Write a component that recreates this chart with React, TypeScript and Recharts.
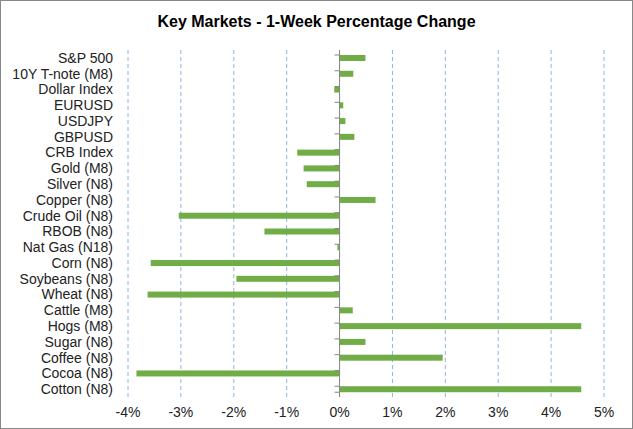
import React from 'react'
import {BarChart, Bar, XAxis, YAxis, CartesianGrid, ReferenceLine} from 'recharts'

const markets = [
  'S&P 500',
  '10Y T-note (M8)',
  'Dollar Index',
  'EURUSD',
  'USDJPY',
  'GBPUSD',
  'CRB Index',
  'Gold (M8)',
  'Silver (N8)',
  'Copper (N8)',
  'Crude Oil (N8)',
  'RBOB (N8)',
  'Nat Gas (N18)',
  'Corn (N8)',
  'Soybeans (N8)',
  'Wheat (N8)',
  'Cattle (M8)',
  'Hogs (M8)',
  'Sugar (N8)',
  'Coffee (N8)',
  'Cocoa (N8)',
  'Cotton (N8)',
]

const weekChange = [
  0.49, 0.26, -0.1, 0.07, 0.11, 0.28, -0.8, -0.68, -0.62, 0.68, -3.04, -1.42,
  -0.04, -3.57, -1.95, -3.63, 0.25, 4.57, 0.49, 1.95, -3.84, 4.57,
]

const xTicks = [-4, -3, -2, -1, 0, 1, 2, 3, 4, 5]

const data = markets.map((name, i) => ({name, change: weekChange[i]}))

const axisGray = '#868686'
const green = '#70AD47'

// bar plus the little category tick on the zero line (Excel style)
function BarWithTick(props: any) {
  const {x, y, width, height, background, index, payload} = props
  const x0 = Math.min(x, x + width)
  const w = Math.abs(width)
  const zeroX = payload.change >= 0 ? x0 : x0 + w
  const bandTop = background ? background.y : y - 5
  const bandH = background ? background.height : 16.5
  return (
    <g>
      <rect x={x0} y={y} width={w} height={height} fill={green} />
      <line x1={zeroX - 5} x2={zeroX} y1={bandTop} y2={bandTop} stroke={axisGray} />
      {index === data.length - 1 && (
        <line
          x1={zeroX - 5}
          x2={zeroX}
          y1={bandTop + bandH}
          y2={bandTop + bandH}
          stroke={axisGray}
        />
      )}
    </g>
  )
}

export default function App() {
  const font = '"Liberation Sans", Arial, sans-serif'
  return (
    <div
      style={{
        position: 'absolute',
        left: 0,
        top: 0,
        width: 633,
        height: 429,
        background: '#fff',
        fontFamily: font,
      }}
    >
      <div
        style={{
          position: 'absolute',
          top: 13,
          width: 633,
          textAlign: 'center',
          fontSize: 16,
          fontWeight: 'bold',
          color: '#000',
        }}
      >
        Key Markets - 1-Week Percentage Change
      </div>
      <BarChart
        width={633}
        height={429}
        data={data}
        layout="vertical"
        margin={{top: 50, right: 29, bottom: 0, left: 0}}
        barSize={6}
      >
        <CartesianGrid
          horizontal={false}
          stroke="#8DB4E2"
          strokeDasharray="4 3"
        />
        <XAxis
          type="number"
          domain={[-4, 5]}
          ticks={xTicks}
          tickFormatter={(v) => `${v}%`}
          axisLine={false}
          tickLine={false}
          tickSize={4}
          tickMargin={6}
          height={32}
          tick={{fill: '#222', fontSize: 14, fontFamily: font}}
          interval={0}
        />
        <YAxis
          type="category"
          dataKey="name"
          width={128}
          axisLine={false}
          tickLine={false}
          tickSize={6}
          tickMargin={9}
          interval={0}
          tick={{fill: '#222', fontSize: 14, fontFamily: font}}
        />
        <ReferenceLine x={0} stroke={axisGray} strokeWidth={1} />
        <Bar
          dataKey="change"
          isAnimationActive={false}
          shape={BarWithTick}
        />
      </BarChart>
      <div
        style={{
          position: 'absolute',
          left: 0,
          top: 0,
          width: 633,
          height: 429,
          boxSizing: 'border-box',
          border: '1px solid #888',
          pointerEvents: 'none',
        }}
      />
    </div>
  )
}
